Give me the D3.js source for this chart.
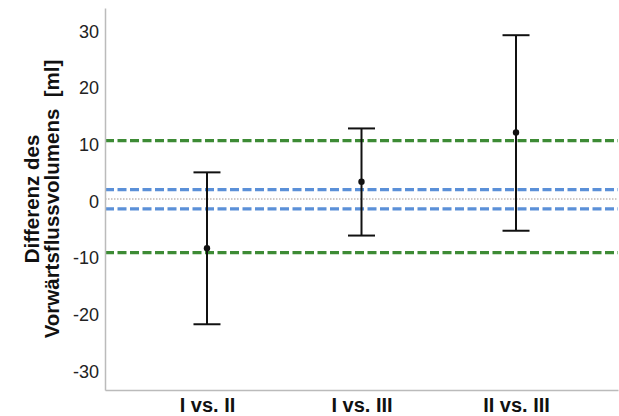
<!DOCTYPE html>
<html>
<head>
<meta charset="utf-8">
<script src="https://cdn.jsdelivr.net/npm/d3@7"></script>
<style>
  html, body { margin: 0; padding: 0; background: #fff; }
  svg { display: block; font-family: "Liberation Sans", Arial, sans-serif; }
</style>
</head>
<body>
<svg id="chart" width="619" height="416"></svg>
<script>
// Comparisons and their mean difference with confidence interval
const categories = ["I vs. II", "I vs. III", "II vs. III"];
const means = [-8.7, 3.05, 11.75];
const lower = [-22.1, -6.45, -5.6];
const upper = [4.7, 12.45, 28.9];

// Reference lines
const outerLimits = [10.3, -9.45];
const innerLimits = [1.65, -1.75];

const yTicks = [-30, -20, -10, 0, 10, 20, 30];

const svg = d3.select("#chart");
const plotLeft = 105, plotRight = 618, plotTop = 8, plotBottom = 390;

const x = d3.scalePoint().domain(categories).range([plotLeft, plotRight]).padding(0.66);
const y = d3.scaleLinear().domain([-33.7, 33.7]).range([plotBottom, plotTop]);

// zero line
svg.append("line")
  .attr("x1", plotLeft).attr("x2", plotRight)
  .attr("y1", y(0)).attr("y2", y(0))
  .attr("stroke", "#8a7a72").attr("stroke-width", 0.8)
  .attr("stroke-dasharray", "1.5,1.5");

// dashed limit lines
svg.selectAll("line.outer").data(outerLimits).join("line")
  .attr("class", "outer")
  .attr("x1", plotLeft).attr("x2", plotRight)
  .attr("y1", d => y(d)).attr("y2", d => y(d))
  .attr("stroke", "#3d8b35").attr("stroke-width", 3.2)
  .attr("stroke-dasharray", "9,3.5");

svg.selectAll("line.inner").data(innerLimits).join("line")
  .attr("class", "inner")
  .attr("x1", plotLeft).attr("x2", plotRight)
  .attr("y1", d => y(d)).attr("y2", d => y(d))
  .attr("stroke", "#5b90d8").attr("stroke-width", 3.2)
  .attr("stroke-dasharray", "9,3.5");

// axes
const yAxis = svg.append("g")
  .attr("transform", `translate(${plotLeft},0)`)
  .call(d3.axisLeft(y).tickValues(yTicks).tickSize(0).tickPadding(6).tickFormat(d => String(d)));
yAxis.select(".domain").attr("stroke", "#bbbbbb").attr("stroke-width", 1.5);
yAxis.selectAll("text")
  .attr("font-size", 18).attr("fill", "#222")
  .attr("font-family", "Liberation Sans, Arial, sans-serif")
  .attr("dy", "0.45em");

const xAxis = svg.append("g")
  .attr("transform", `translate(0,${plotBottom})`)
  .call(d3.axisBottom(x).tickSize(0).tickPadding(8));
xAxis.select(".domain").attr("stroke", "#bbbbbb").attr("stroke-width", 1.5);
xAxis.selectAll("text")
  .attr("font-size", 20).attr("font-weight", "bold").attr("fill", "#111")
  .attr("font-family", "Liberation Sans, Arial, sans-serif");

// axis title
const title = svg.append("text")
  .attr("transform", `translate(42,${y(0)}) rotate(-90)`)
  .attr("text-anchor", "middle")
  .attr("font-size", 20.5).attr("font-weight", "bold").attr("fill", "#111")
  .style("white-space", "pre");
title.append("tspan").attr("x", 0).attr("dy", "-0.15em").text("Differenz des");
title.append("tspan").attr("x", 0).attr("dy", "1.0em").text("Vorwärtsflussvolumens\u00a0\u00a0[ml]");

// error bars
const data = categories.map((c, i) => ({ c, m: means[i], lo: lower[i], hi: upper[i] }));
const capHalf = 13.5;
const g = svg.append("g").selectAll("g").data(data).join("g");
g.append("line")
  .attr("x1", d => x(d.c)).attr("x2", d => x(d.c))
  .attr("y1", d => y(d.lo)).attr("y2", d => y(d.hi))
  .attr("stroke", "#111").attr("stroke-width", 2);
g.append("line")
  .attr("x1", d => x(d.c) - capHalf).attr("x2", d => x(d.c) + capHalf)
  .attr("y1", d => y(d.hi)).attr("y2", d => y(d.hi))
  .attr("stroke", "#111").attr("stroke-width", 2);
g.append("line")
  .attr("x1", d => x(d.c) - capHalf).attr("x2", d => x(d.c) + capHalf)
  .attr("y1", d => y(d.lo)).attr("y2", d => y(d.lo))
  .attr("stroke", "#111").attr("stroke-width", 2);
g.append("circle")
  .attr("cx", d => x(d.c)).attr("cy", d => y(d.m))
  .attr("r", 3.2).attr("fill", "#111");
</script>
</body>
</html>
